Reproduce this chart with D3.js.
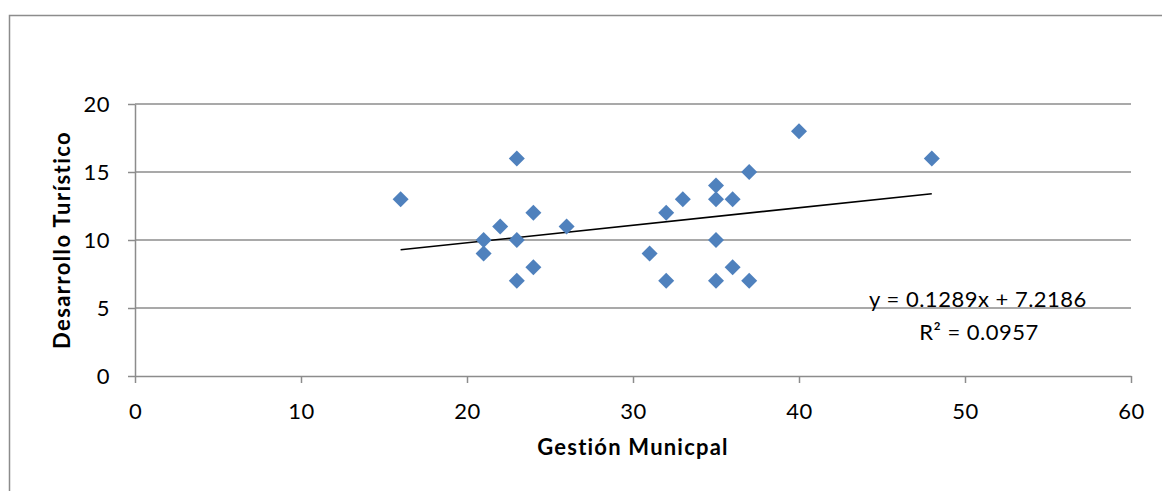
<!DOCTYPE html>
<html lang="es">
<head>
<meta charset="UTF-8">
<script src="https://d3js.org/d3.v7.min.js"></script>
<style>
  html, body { margin: 0; padding: 0; background: #fff; }
  svg { display: block; font-family: Lato, "Open Sans", sans-serif; }
</style>
</head>
<body>
<svg id="chart" width="1162" height="491"></svg>
<script>
// datos
let gestion    = [16, 21, 21, 22, 23, 23, 23, 24, 24, 26, 31, 32, 32, 33, 35, 35, 35, 35, 36, 36, 37, 37, 40, 48]
let desarrollo = [13, 10,  9, 11, 16, 10,  7, 12,  8, 11,  9, 12,  7, 13, 14, 13, 10,  7, 13,  8, 15,  7, 18, 16]
let xTicks = [0, 10, 20, 30, 40, 50, 60]
let yTicks = [0, 5, 10, 15, 20]
let slope = 0.1289
let intercept = 7.2186
let eqLabel = 'y = 0.1289x + 7.2186'
let r2Label = 'R² = 0.0957'

let svg = d3.select('#chart')

let x = d3.scaleLinear().domain([0, 60]).range([135, 1131])
let y = d3.scaleLinear().domain([0, 20]).range([376, 104])

// marco del gráfico
svg.append('path')
  .attr('d', 'M9.5,491 V15.5 H1162')
  .attr('fill', 'none')
  .attr('stroke', '#8c8c8c')
  .attr('stroke-width', 1.5)

// líneas de cuadrícula
svg.append('g')
  .selectAll('line')
  .data(yTicks.slice(1))
  .enter()
  .append('line')
  .attr('x1', x(0))
  .attr('x2', x(60))
  .attr('y1', d => y(d))
  .attr('y2', d => y(d))
  .attr('stroke', '#8c8c8c')
  .attr('stroke-width', 1.5)

let xAxis = svg.append('g')
  .attr('transform', `translate(0,${y(0)})`)
  .call(d3.axisBottom(x).tickValues(xTicks).tickSizeInner(7).tickSizeOuter(0).tickPadding(20))
let yAxis = svg.append('g')
  .attr('transform', `translate(${x(0)},0)`)
  .call(d3.axisLeft(y).tickValues(yTicks).tickSizeInner(7).tickSizeOuter(0).tickPadding(18))

;[xAxis, yAxis].forEach(ax => {
  ax.attr('font-family', null).attr('font-size', null)
  ax.select('.domain').attr('stroke', '#8c8c8c').attr('stroke-width', 1.5)
  ax.selectAll('.tick line').attr('stroke', '#8c8c8c').attr('stroke-width', 1.5)
  ax.selectAll('.tick text')
    .attr('fill', '#000')
    .style('font-size', '22px')
    .style('letter-spacing', '0.5px')
})

// línea de tendencia
svg.append('line')
  .attr('x1', x(d3.min(gestion)))
  .attr('x2', x(d3.max(gestion)))
  .attr('y1', y(slope * d3.min(gestion) + intercept))
  .attr('y2', y(slope * d3.max(gestion) + intercept))
  .attr('stroke', '#000')
  .attr('stroke-width', 1.6)

// puntos (rombos)
let diamond = 'M0,-8 L8,0 L0,8 L-8,0 Z'
svg.append('g')
  .selectAll('path')
  .data(gestion.map((g, i) => [g, desarrollo[i]]))
  .enter()
  .append('path')
  .attr('d', diamond)
  .attr('transform', d => `translate(${x(d[0])},${y(d[1])})`)
  .attr('fill', '#4f81bd')

// ecuación
svg.append('text')
  .attr('x', 978).attr('y', 307)
  .attr('text-anchor', 'middle')
  .style('font-size', '22px')
  .style('letter-spacing', '0.5px')
  .text(eqLabel)
svg.append('text')
  .attr('x', 979).attr('y', 340)
  .attr('text-anchor', 'middle')
  .style('font-size', '22px')
  .style('letter-spacing', '0.5px')
  .text(r2Label)

// títulos de ejes
svg.append('text')
  .attr('x', 633).attr('y', 455)
  .attr('text-anchor', 'middle')
  .style('font-size', '22px')
  .style('font-weight', 'bold')
  .style('letter-spacing', '1.2px')
  .text('Gestión Municpal')
svg.append('text')
  .attr('transform', 'translate(70,240) rotate(-90)')
  .attr('text-anchor', 'middle')
  .style('font-size', '22px')
  .style('font-weight', 'bold')
  .style('letter-spacing', '1.4px')
  .text('Desarrollo Turístico')
</script>
</body>
</html>
